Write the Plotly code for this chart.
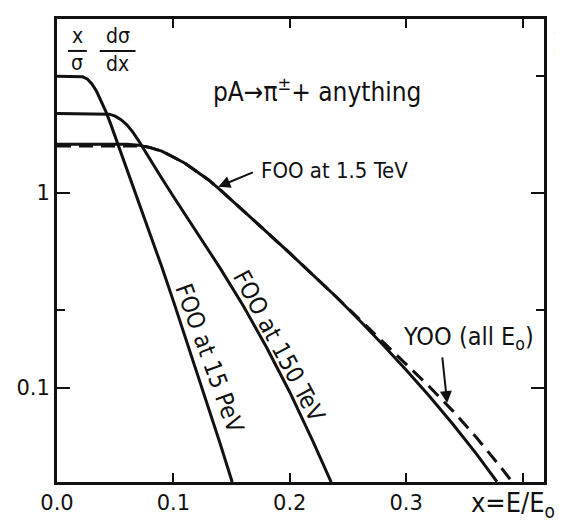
import math
import plotly.graph_objects as go

# ---- data ----
x_15pev = [0, 0.018, 0.022, 0.026, 0.030, 0.034, 0.038, 0.042, 0.046, 0.050, 0.055, 0.060, 0.065, 0.070,
           0.080, 0.090, 0.100, 0.120, 0.140, 0.1505]
y_15pev = [3.98, 3.98, 3.95, 3.85, 3.63, 3.33, 2.98, 2.62, 2.27, 1.95, 1.61, 1.33, 1.10, 0.912,
           0.619, 0.417, 0.278, 0.121, 0.0519, 0.0327]

x_150tev = [0, 0.040, 0.045, 0.050, 0.055, 0.060, 0.065, 0.070, 0.075, 0.080, 0.090, 0.100, 0.110, 0.120,
            0.140, 0.160, 0.180, 0.200, 0.220, 0.2355]
y_150tev = [2.56, 2.56, 2.54, 2.48, 2.38, 2.24, 2.06, 1.86, 1.66, 1.48, 1.19, 0.959, 0.776, 0.631,
            0.412, 0.263, 0.161, 0.0946, 0.0527, 0.0327]

x_1p5tev = [0, 0.060, 0.070, 0.080, 0.090, 0.100, 0.110, 0.120, 0.130, 0.140, 0.160, 0.180, 0.200, 0.220,
            0.240, 0.260, 0.280, 0.300, 0.320, 0.340, 0.360, 0.378]
y_1p5tev = [1.78, 1.78, 1.76, 1.71, 1.64, 1.53, 1.42, 1.29, 1.17, 1.04, 0.813, 0.631, 0.490, 0.380,
            0.292, 0.221, 0.166, 0.123, 0.0902, 0.0649, 0.0459, 0.0328]

x_yoo = [0, 0.060, 0.075, 0.080, 0.090, 0.100, 0.110, 0.120, 0.130, 0.140, 0.160, 0.180, 0.200, 0.220,
         0.240, 0.260, 0.280, 0.300, 0.320, 0.340, 0.360, 0.380, 0.391]
y_yoo = [1.74, 1.74, 1.74, 1.71, 1.64, 1.53, 1.42, 1.29, 1.17, 1.04, 0.813, 0.631, 0.490, 0.380,
         0.292, 0.224, 0.172, 0.133, 0.101, 0.0759, 0.0557, 0.0398, 0.0328]

x_tickvals = [0, 0.1, 0.2, 0.3, 0.4]
x_ticktext = ["0.0", "0.1", "0.2", "0.3", ""]
y_tickvals = [0.1, 1]
y_ticktext = ["0.1", "1"]
y_minor_ticks = [0.25, 4]

X_RANGE = [0, 0.4184]
Y_RANGE = [math.log10(0.0327), math.log10(7.83)]

# page body has an 8px margin: the figure starts at (8, 8) in the window
OFF = 8
W, H = 555, 515
ML, MR, MT, MB = 46, 19, 8, 36
PW, PH = W - ML - MR, H - MT - MB

def px(xp):
    # window pixel x -> paper x
    return (xp - OFF - ML) / PW

def py(yp):
    # window pixel y -> paper y
    return (H - MB - (yp - OFF)) / PH

NARROW = "Liberation Sans Narrow, Arial Narrow, DejaVu Sans Condensed, Liberation Sans, sans-serif"
REG = "DejaVu Sans, Liberation Sans, sans-serif"
INK = "#111111"

fig = go.Figure()
line_style = dict(color=INK, width=3)
fig.add_trace(go.Scatter(x=x_15pev, y=y_15pev, mode="lines", line=line_style, name="FOO at 15 PeV"))
fig.add_trace(go.Scatter(x=x_150tev, y=y_150tev, mode="lines", line=line_style, name="FOO at 150 TeV"))
fig.add_trace(go.Scatter(x=x_1p5tev, y=y_1p5tev, mode="lines", line=line_style, name="FOO at 1.5 TeV"))
fig.add_trace(go.Scatter(x=x_yoo, y=y_yoo, mode="lines", line=dict(color=INK, width=3, dash="14px,8px"),
                         name="YOO (all E0)"))


def label(text, xw, yw, size, angle=0, xanchor="center", yanchor="middle", **kw):
    d = dict(x=px(xw), y=py(yw), xref="paper", yref="paper", text=text, textangle=angle,
             xanchor=xanchor, yanchor=yanchor, showarrow=False, font=dict(family=NARROW, size=size, color=INK))
    d.update(kw)
    return d


ann = [
    label("FOO at 15 PeV", 207, 361, 24, angle=70),
    label("FOO at 150 TeV", 277, 349, 24, angle=62),
    label("FOO at 1.5 TeV", 333, 170, 22),
    dict(x=0.1386, y=math.log10(1.076), xref="x", yref="y", text="", showarrow=True,
         ax=36, ay=-15, arrowhead=2, arrowsize=1.2, arrowwidth=2, arrowcolor=INK),
    label("YOO (all E<sub>o</sub>)", 468, 341, 25),
    dict(x=0.3352, y=math.log10(0.0833), xref="x", yref="y", text="", showarrow=True,
         ax=-5, ay=-47, arrowhead=2, arrowsize=1.2, arrowwidth=2, arrowcolor=INK),
    label("pA→π<sup>±</sup>+ anything", 316, 88, 26),
    # y-axis title as stacked fractions
    label("x", 74.5, 47, 21, yanchor="bottom", borderpad=0),
    label("σ", 74.5, 48, 21, yanchor="top", borderpad=0),
    label("dσ", 115, 47, 21, yanchor="bottom", borderpad=0),
    label("dx", 115, 49, 21, yanchor="top", borderpad=0),
    # x-axis title at lower right
    label("x=E/E<sub>o</sub>", 469, 510, 27, xanchor="left"),
    # fragment of the neighbouring panel's label at the right edge
    label("d", 552, 47, 22, xanchor="left"),
]

shapes = [
    dict(type="line", xref="paper", yref="paper", x0=px(65), x1=px(84), y0=py(48.5), y1=py(48.5),
         line=dict(color=INK, width=2)),
    dict(type="line", xref="paper", yref="paper", x0=px(97), x1=px(133), y0=py(48.5), y1=py(48.5),
         line=dict(color=INK, width=2)),
    dict(type="line", xref="paper", yref="paper", x0=px(555), x1=px(565), y0=py(30), y1=py(30),
         line=dict(color=INK, width=2)),
]

fig.update_layout(
    width=W, height=H, margin=dict(l=ML, r=MR, t=MT, b=MB, pad=0),
    paper_bgcolor="white", plot_bgcolor="white", showlegend=False,
    annotations=ann, shapes=shapes,
    xaxis=dict(range=X_RANGE, tickvals=x_tickvals, ticktext=x_ticktext, ticks="inside", ticklen=9, tickwidth=2,
               tickcolor=INK, showline=True, linewidth=3, linecolor=INK, mirror="ticks", showgrid=False,
               zeroline=False, tickfont=dict(family=REG, size=21, color=INK)),
    yaxis=dict(type="log", range=Y_RANGE, tickvals=y_tickvals, ticktext=y_ticktext, ticks="inside", ticklen=13,
               tickwidth=2, tickcolor=INK, showline=True, linewidth=3, linecolor=INK, mirror="ticks",
               showgrid=False, zeroline=False, tickfont=dict(family=REG, size=21, color=INK),
               minor=dict(tickvals=y_minor_ticks, ticks="inside", ticklen=8, tickwidth=2, tickcolor=INK,
                          showgrid=False)),
)

fig.write_html("out.html")
